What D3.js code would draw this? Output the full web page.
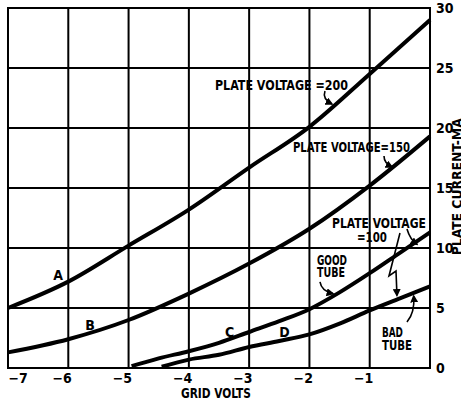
<!DOCTYPE html>
<html>
<head>
<meta charset="utf-8">
<script src="https://cdn.jsdelivr.net/npm/d3@7"></script>
<style>
  body { margin: 0; background: #fff; }
  text { font-family: "Liberation Sans Narrow", "DejaVu Sans Condensed", "Liberation Sans", sans-serif; font-weight: bold; fill: #000; }
</style>
</head>
<body>
<script>
    // grid volts (x) and plate current in mA (y)
    const xTicks = [-7, -6, -5, -4, -3, -2, -1, 0];
    const yTicks = [0, 5, 10, 15, 20, 25, 30];

    // curve A: plate voltage 200
    const voltsA = [-7, -6, -5, -4, -3, -2, -1, 0];
    const currentA = [5, 7.2, 10.2, 13.2, 16.7, 20.1, 24.5, 29];
    // curve B: plate voltage 150
    const voltsB = [-7, -6, -5, -4, -3, -2, -1, 0];
    const currentB = [1.3, 2.4, 4.0, 6.2, 8.7, 11.6, 15.2, 19.3];
    // curve C: plate voltage 100, good tube
    const voltsC = [-4.95, -4.5, -4, -3.5, -3, -2.5, -2, -1.5, -1, -0.5, 0];
    const currentC = [0.15, 0.8, 1.4, 2.1, 3.0, 3.9, 4.9, 6.3, 7.9, 9.6, 11.3];
    // curve D: plate voltage 100, bad tube
    const voltsD = [-4.45, -4, -3.5, -3, -2.5, -2, -1.5, -1, -0.5, 0];
    const currentD = [0.1, 0.7, 1.1, 1.75, 2.25, 2.8, 3.7, 4.8, 5.8, 6.8];

    const curves = [
        {name: 'A', volts: voltsA, current: currentA},
        {name: 'B', volts: voltsB, current: currentB},
        {name: 'C', volts: voltsC, current: currentC},
        {name: 'D', volts: voltsD, current: currentD}
    ];

    const W = 461, H = 403;
    const margin = {left: 8, top: 8, right: 31, bottom: 35},
        width = W - margin.left - margin.right,
        height = H - margin.top - margin.bottom;

    const svg = d3.select('body').append('svg')
        .attr('width', W)
        .attr('height', H);

    svg.append('defs').append('marker')
        .attr('id', 'head')
        .attr('viewBox', '0 0 10 10')
        .attr('refX', 8).attr('refY', 5)
        .attr('markerWidth', 5).attr('markerHeight', 5)
        .attr('orient', 'auto')
        .append('path')
            .attr('d', 'M0,0 L10,5 L0,10 Z')
            .attr('fill', '#000');

    const g = svg.append('g')
        .attr('transform', `translate(${margin.left}, ${margin.top})`);

    const x = d3.scaleLinear().domain([-7, 0]).range([0, width]);
    const y = d3.scaleLinear().domain([0, 30]).range([height, 0]);

    // grid
    g.selectAll('.vgrid')
        .data(xTicks)
        .enter().append('line')
            .attr('x1', d => x(d)).attr('x2', d => x(d))
            .attr('y1', 0).attr('y2', height)
            .attr('stroke', '#000').attr('stroke-width', 2);

    g.selectAll('.hgrid')
        .data(yTicks)
        .enter().append('line')
            .attr('x1', 0).attr('x2', width)
            .attr('y1', d => y(d)).attr('y2', d => y(d))
            .attr('stroke', '#000').attr('stroke-width', 2);

    // axes (labels only)
    const xAxis = d3.axisBottom(x)
        .tickValues(xTicks)
        .tickSize(0)
        .tickPadding(5)
        .tickFormat(d => d === 0 ? '' : '\u2212' + Math.abs(d));

    const xAxisGroup = g.append('g')
        .attr('transform', `translate(0, ${height})`)
        .call(xAxis);
    xAxisGroup.select('.domain').remove();
    xAxisGroup.selectAll('text')
        .attr('font-size', 14)
        .attr('font-family', null)
        .attr('text-anchor', d => d === -7 ? 'start' : 'end')
        .attr('x', d => d === -7 ? 0 : 3);

    const yAxis = d3.axisRight(y)
        .tickValues(yTicks)
        .tickSize(0)
        .tickPadding(6);

    const yAxisGroup = g.append('g')
        .attr('transform', `translate(${width}, 0)`)
        .call(yAxis);
    yAxisGroup.select('.domain').remove();
    yAxisGroup.selectAll('text')
        .attr('font-size', 14)
        .attr('font-family', null);

    // axis titles
    g.append('text')
        .attr('x', x(-3.55))
        .attr('y', height + 30)
        .attr('text-anchor', 'middle')
        .attr('font-size', 14)
        .attr('textLength', 70)
        .attr('lengthAdjust', 'spacingAndGlyphs')
        .text('GRID VOLTS');

    g.append('text')
        .attr('transform', `translate(${W - margin.left + 1}, ${y(15.1)}) rotate(-90)`)
        .attr('text-anchor', 'middle')
        .attr('font-size', 14)
        .attr('textLength', 137)
        .attr('lengthAdjust', 'spacingAndGlyphs')
        .text('PLATE CURRENT-MA');

    // curves
    const line = d3.line()
        .x(d => x(d[0]))
        .y(d => y(d[1]))
        .curve(d3.curveMonotoneX);

    g.selectAll('.curve')
        .data(curves)
        .enter().append('path')
            .attr('d', d => line(d.volts.map((v, i) => [v, d.current[i]])))
            .attr('fill', 'none')
            .attr('stroke', '#000')
            .attr('stroke-width', 4);

    // annotations, positions in grid volts / mA
    const labels = [
        {t: 'PLATE VOLTAGE =200', x: -3.567, y: 23.58, len: 133},
        {t: 'PLATE VOLTAGE=150', x: -2.273, y: 18.42, len: 117},
        {t: 'PLATE VOLTAGE', x: -1.626, y: 12.08, len: 94},
        {t: '=100', x: -1.211, y: 10.92, len: 30},
        {t: 'GOOD', x: -1.875, y: 9.0, len: 30},
        {t: 'TUBE', x: -1.875, y: 8.0, len: 28},
        {t: 'BAD', x: -0.797, y: 3.0, len: 21},
        {t: 'TUBE', x: -0.797, y: 1.92, len: 30},
        {t: 'A', x: -6.25, y: 7.75, len: 0},
        {t: 'B', x: -5.72, y: 3.58, len: 0},
        {t: 'C', x: -3.40, y: 3.0, len: 0},
        {t: 'D', x: -2.50, y: 3.0, len: 0}
    ];

    g.selectAll('.note')
        .data(labels)
        .enter().append('text')
            .attr('x', d => x(d.x))
            .attr('y', d => y(d.y))
            .attr('dy', '0.36em')
            .attr('font-size', 14)
            .attr('textLength', d => d.len || null)
            .attr('lengthAdjust', 'spacingAndGlyphs')
            .text(d => d.t);

    const arrows = [
        [[-1.742, 23.08], [-1.79, 22.42], [-1.626, 22.0]],
        [[-0.763, 17.67], [-0.763, 17.08], [-0.63, 16.75]],
        [[-0.382, 11.58], [-0.33, 10.7], [-0.216, 10.3]],
        [[-1.825, 7.17], [-1.80, 6.4], [-1.609, 6.2]],
        [[-0.382, 3.83], [-0.25, 4.6], [-0.27, 6.0]]
    ];

    g.selectAll('.arrow')
        .data(arrows)
        .enter().append('path')
            .attr('d', d => `M${x(d[0][0])},${y(d[0][1])} Q${x(d[1][0])},${y(d[1][1])} ${x(d[2][0])},${y(d[2][1])}`)
            .attr('fill', 'none')
            .attr('stroke', '#000')
            .attr('stroke-width', 1.6)
            .attr('marker-end', 'url(#head)');

    // zigzag arrow to the bad tube curve
    const zig = [[-0.498, 11.25], [-0.68, 7.67], [-0.564, 8.08], [-0.548, 6.05]];
    g.append('path')
        .attr('d', d3.line().x(d => x(d[0])).y(d => y(d[1]))(zig))
        .attr('fill', 'none')
        .attr('stroke', '#000')
        .attr('stroke-width', 1.6)
        .attr('marker-end', 'url(#head)');

    // frame
    g.append('rect')
        .attr('width', width)
        .attr('height', height)
        .attr('fill', 'none')
        .attr('stroke', '#000')
        .attr('stroke-width', 2);
</script>
</body>
</html>
